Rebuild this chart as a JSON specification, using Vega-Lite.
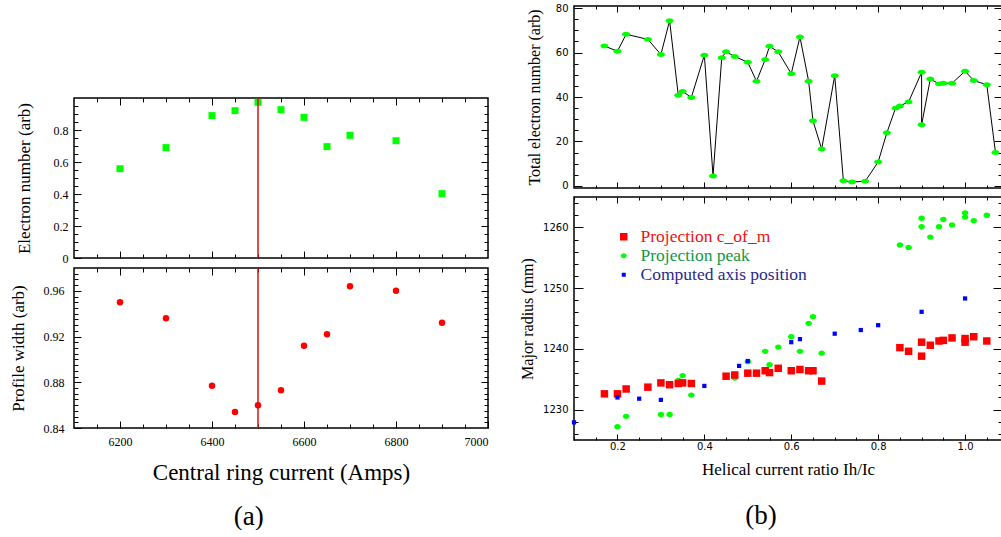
{
"$schema": "https://vega.github.io/schema/vega-lite/v6.json",
"background": "white",
"padding": {"left": 8, "top": 2, "right": 0, "bottom": 0},
"config": {
  "view": {"stroke": "#000", "strokeWidth": 1.5},
  "axis": {"domain": false, "grid": false, "tickColor": "#000", "tickWidth": 1, "labelColor": "#000", "titleColor": "#000", "titleFontWeight": "normal"},
  "title": {"fontWeight": "normal", "color": "#000"}
},
"datasets": {
  "a": [
    {"I":6200,"n":0.558,"w":0.950},
    {"I":6300,"n":0.690,"w":0.936},
    {"I":6400,"n":0.890,"w":0.877},
    {"I":6450,"n":0.921,"w":0.854},
    {"I":6500,"n":0.973,"w":0.860},
    {"I":6550,"n":0.927,"w":0.873},
    {"I":6600,"n":0.879,"w":0.912},
    {"I":6650,"n":0.696,"w":0.922},
    {"I":6700,"n":0.767,"w":0.964},
    {"I":6800,"n":0.733,"w":0.960},
    {"I":6900,"n":0.402,"w":0.932}
  ],
  "vline": [{"I": 6500}],
  "t": [
    {"o":1,"r":0.17,"N":62.9},{"o":2,"r":0.20,"N":60.6},{"o":3,"r":0.22,"N":68.2},{"o":4,"r":0.27,"N":65.9},
    {"o":5,"r":0.30,"N":59.1},{"o":6,"r":0.32,"N":74.3},{"o":7,"r":0.34,"N":40.8},{"o":8,"r":0.35,"N":42.5},
    {"o":9,"r":0.37,"N":39.8},{"o":10,"r":0.40,"N":58.8},{"o":11,"r":0.42,"N":4.5},{"o":12,"r":0.44,"N":57.6},
    {"o":13,"r":0.45,"N":60.3},{"o":14,"r":0.47,"N":58.2},{"o":15,"r":0.50,"N":55.6},{"o":16,"r":0.52,"N":47.1},
    {"o":17,"r":0.54,"N":56.8},{"o":18,"r":0.55,"N":62.8},{"o":19,"r":0.57,"N":60.3},{"o":20,"r":0.60,"N":50.5},
    {"o":21,"r":0.62,"N":67.0},{"o":22,"r":0.64,"N":47.1},{"o":23,"r":0.65,"N":29.3},{"o":24,"r":0.67,"N":16.6},
    {"o":25,"r":0.70,"N":49.6},{"o":26,"r":0.72,"N":2.4},{"o":27,"r":0.74,"N":1.8},{"o":28,"r":0.77,"N":2.1},
    {"o":29,"r":0.80,"N":10.8},{"o":30,"r":0.82,"N":23.9},{"o":31,"r":0.84,"N":35.0},{"o":32,"r":0.85,"N":36.0},
    {"o":33,"r":0.87,"N":37.8},{"o":34,"r":0.90,"N":51.1},{"o":35,"r":0.90,"N":27.5},{"o":36,"r":0.92,"N":48.1},
    {"o":37,"r":0.94,"N":45.9},{"o":38,"r":0.95,"N":46.2},{"o":39,"r":0.97,"N":46.2},{"o":40,"r":1.00,"N":51.6},
    {"o":41,"r":1.02,"N":47.4},{"o":42,"r":1.05,"N":45.5},{"o":43,"r":1.07,"N":15.1}
  ],
  "b": [
    {"r":0.85,"R":1257.1,"s":"Projection peak"},{"r":0.87,"R":1256.7,"s":"Projection peak"},
    {"r":0.90,"R":1261.5,"s":"Projection peak"},{"r":0.90,"R":1260.1,"s":"Projection peak"},
    {"r":0.92,"R":1258.4,"s":"Projection peak"},{"r":0.94,"R":1260.1,"s":"Projection peak"},
    {"r":0.95,"R":1261.3,"s":"Projection peak"},{"r":0.97,"R":1260.4,"s":"Projection peak"},
    {"r":1.00,"R":1262.4,"s":"Projection peak"},{"r":1.00,"R":1261.7,"s":"Projection peak"},
    {"r":1.02,"R":1261.1,"s":"Projection peak"},{"r":1.05,"R":1262.0,"s":"Projection peak"},
    {"r":0.64,"R":1244.2,"s":"Projection peak"},{"r":0.65,"R":1245.3,"s":"Projection peak"},
    {"r":0.60,"R":1242.0,"s":"Projection peak"},{"r":0.57,"R":1240.3,"s":"Projection peak"},
    {"r":0.54,"R":1239.6,"s":"Projection peak"},{"r":0.62,"R":1239.6,"s":"Projection peak"},
    {"r":0.67,"R":1239.3,"s":"Projection peak"},{"r":0.55,"R":1237.4,"s":"Projection peak"},
    {"r":0.50,"R":1237.9,"s":"Projection peak"},{"r":0.52,"R":1235.9,"s":"Projection peak"},
    {"r":0.47,"R":1235.2,"s":"Projection peak"},{"r":0.35,"R":1235.6,"s":"Projection peak"},
    {"r":0.34,"R":1234.8,"s":"Projection peak"},{"r":0.37,"R":1232.4,"s":"Projection peak"},
    {"r":0.22,"R":1228.9,"s":"Projection peak"},{"r":0.20,"R":1227.2,"s":"Projection peak"},
    {"r":0.30,"R":1229.2,"s":"Projection peak"},{"r":0.32,"R":1229.2,"s":"Projection peak"},
    {"r":0.17,"R":1232.6,"s":"Projection c_of_m"},{"r":0.20,"R":1232.6,"s":"Projection c_of_m"},
    {"r":0.22,"R":1233.4,"s":"Projection c_of_m"},{"r":0.27,"R":1233.7,"s":"Projection c_of_m"},
    {"r":0.30,"R":1234.4,"s":"Projection c_of_m"},{"r":0.32,"R":1234.1,"s":"Projection c_of_m"},
    {"r":0.34,"R":1234.3,"s":"Projection c_of_m"},{"r":0.35,"R":1234.4,"s":"Projection c_of_m"},
    {"r":0.37,"R":1234.3,"s":"Projection c_of_m"},{"r":0.45,"R":1235.5,"s":"Projection c_of_m"},
    {"r":0.47,"R":1235.7,"s":"Projection c_of_m"},{"r":0.50,"R":1236.0,"s":"Projection c_of_m"},
    {"r":0.52,"R":1236.0,"s":"Projection c_of_m"},{"r":0.54,"R":1236.4,"s":"Projection c_of_m"},
    {"r":0.55,"R":1236.1,"s":"Projection c_of_m"},{"r":0.57,"R":1236.8,"s":"Projection c_of_m"},
    {"r":0.60,"R":1236.4,"s":"Projection c_of_m"},{"r":0.62,"R":1236.6,"s":"Projection c_of_m"},
    {"r":0.64,"R":1236.4,"s":"Projection c_of_m"},{"r":0.65,"R":1236.4,"s":"Projection c_of_m"},
    {"r":0.67,"R":1234.7,"s":"Projection c_of_m"},{"r":0.85,"R":1240.2,"s":"Projection c_of_m"},
    {"r":0.87,"R":1239.6,"s":"Projection c_of_m"},{"r":0.90,"R":1241.1,"s":"Projection c_of_m"},
    {"r":0.90,"R":1238.8,"s":"Projection c_of_m"},{"r":0.92,"R":1240.6,"s":"Projection c_of_m"},
    {"r":0.94,"R":1241.3,"s":"Projection c_of_m"},{"r":0.95,"R":1241.4,"s":"Projection c_of_m"},
    {"r":0.97,"R":1241.8,"s":"Projection c_of_m"},{"r":1.00,"R":1241.7,"s":"Projection c_of_m"},
    {"r":1.00,"R":1241.1,"s":"Projection c_of_m"},{"r":1.02,"R":1242.0,"s":"Projection c_of_m"},
    {"r":1.05,"R":1241.3,"s":"Projection c_of_m"},
    {"r":0.10,"R":1227.9,"s":"Computed axis position"},{"r":0.20,"R":1232.0,"s":"Computed axis position"},
    {"r":0.25,"R":1231.8,"s":"Computed axis position"},{"r":0.30,"R":1231.6,"s":"Computed axis position"},
    {"r":0.40,"R":1233.9,"s":"Computed axis position"},{"r":0.48,"R":1237.2,"s":"Computed axis position"},
    {"r":0.50,"R":1238.0,"s":"Computed axis position"},{"r":0.60,"R":1241.1,"s":"Computed axis position"},
    {"r":0.62,"R":1241.6,"s":"Computed axis position"},{"r":0.70,"R":1242.5,"s":"Computed axis position"},
    {"r":0.76,"R":1243.1,"s":"Computed axis position"},{"r":0.80,"R":1243.9,"s":"Computed axis position"},
    {"r":0.90,"R":1246.1,"s":"Computed axis position"},{"r":1.00,"R":1248.3,"s":"Computed axis position"}
  ]
},
"spacing": 28,
"hconcat": [
  {
    "bounds": "flush",
    "spacing": 10,
    "title": {"text": "(a)", "orient": "bottom", "anchor": "middle", "font": "Liberation Serif", "fontSize": 27, "offset": 19},
    "vconcat": [
      {"width": 414, "height": 82, "data": {"values": []}, "mark": {"type": "point", "opacity": 0}, "encoding": {}, "view": {"stroke": null}},
      {
        "width": 414, "height": 160,
        "resolve": {"axis": {"x": "independent", "y": "independent"}},
        "layer": [
          {
            "data": {"name": "a"},
            "mark": {"type": "point", "shape": "square", "filled": true, "opacity": 1, "size": 49, "color": "#00ff00"},
            "encoding": {
              "x": {"field": "I", "type": "quantitative", "scale": {"domain": [6100, 7000], "nice": false, "zero": false},
                    "axis": {"orient": "bottom", "title": null, "labels": false, "values": [6200,6400,6600,6800], "offset": -7, "tickSize": 7}},
              "y": {"field": "n", "type": "quantitative", "scale": {"domain": [0, 1], "nice": false, "zero": false},
                    "axis": {"orient": "left", "title": "Electron number (arb)", "titleFont": "Liberation Serif", "titleFontSize": 17, "titlePadding": 20,
                             "labelFont": "Liberation Serif", "labelFontSize": 12, "labelPadding": 6, "format": "~g",
                             "values": [0,0.2,0.4,0.6,0.8], "offset": -7, "tickSize": 7}}
            }
          },
          {
            "data": {"name": "a"},
            "mark": {"type": "point", "opacity": 0},
            "encoding": {
              "x": {"field": "I", "type": "quantitative", "scale": {"domain": [6100, 7000], "nice": false, "zero": false},
                    "axis": {"orient": "bottom", "title": null, "labels": false, "values": [6150,6250,6300,6350,6450,6500,6550,6650,6700,6750,6850,6900,6950], "offset": -4, "tickSize": 4}},
              "y": {"field": "n", "type": "quantitative", "scale": {"domain": [0, 1], "nice": false, "zero": false},
                    "axis": {"orient": "left", "title": null, "labels": false,
                             "values": [0.05,0.1,0.15,0.25,0.3,0.35,0.45,0.5,0.55,0.65,0.7,0.75,0.85,0.9,0.95], "offset": -4, "tickSize": 4}}
            }
          },
          {
            "data": {"name": "a"},
            "mark": {"type": "point", "opacity": 0},
            "encoding": {
              "x": {"field": "I", "type": "quantitative", "scale": {"domain": [6100, 7000], "nice": false, "zero": false},
                    "axis": {"orient": "top", "title": null, "labels": false, "values": [6200,6400,6600,6800], "offset": -7, "tickSize": 7}},
              "y": {"field": "n", "type": "quantitative", "scale": {"domain": [0, 1], "nice": false, "zero": false},
                    "axis": {"orient": "right", "title": null, "labels": false, "values": [0.2,0.4,0.6,0.8], "offset": -7, "tickSize": 7}}
            }
          },
          {
            "data": {"name": "a"},
            "mark": {"type": "point", "opacity": 0},
            "encoding": {
              "x": {"field": "I", "type": "quantitative", "scale": {"domain": [6100, 7000], "nice": false, "zero": false},
                    "axis": {"orient": "top", "title": null, "labels": false, "values": [6150,6250,6300,6350,6450,6500,6550,6650,6700,6750,6850,6900,6950], "offset": -4, "tickSize": 4}},
              "y": {"field": "n", "type": "quantitative", "scale": {"domain": [0, 1], "nice": false, "zero": false},
                    "axis": {"orient": "right", "title": null, "labels": false,
                             "values": [0.05,0.1,0.15,0.25,0.3,0.35,0.45,0.5,0.55,0.65,0.7,0.75,0.85,0.9,0.95], "offset": -4, "tickSize": 4}}
            }
          },
          {
            "data": {"name": "vline"},
            "mark": {"type": "rule", "color": "#dd1111", "strokeWidth": 1.5},
            "encoding": {"x": {"field": "I", "type": "quantitative", "scale": {"domain": [6100, 7000], "nice": false, "zero": false}, "axis": null}}
          }
        ]
      },
      {
        "width": 414, "height": 160,
        "resolve": {"axis": {"x": "independent", "y": "independent"}},
        "layer": [
          {
            "data": {"name": "a"},
            "mark": {"type": "point", "shape": "circle", "filled": true, "opacity": 1, "size": 42, "color": "#ff0000"},
            "encoding": {
              "x": {"field": "I", "type": "quantitative", "scale": {"domain": [6100, 7000], "nice": false, "zero": false},
                    "axis": {"orient": "bottom", "title": "Central ring current (Amps)", "titleFont": "Liberation Serif", "titleFontSize": 23, "titlePadding": 14,
                             "labelFont": "Liberation Serif", "labelFontSize": 12, "labelPadding": 8, "format": "d",
                             "values": [6200,6400,6600,6800,7000], "offset": -7, "tickSize": 7}},
              "y": {"field": "w", "type": "quantitative", "scale": {"domain": [0.84, 0.98], "nice": false, "zero": false},
                    "axis": {"orient": "left", "title": "Profile width (arb)", "titleFont": "Liberation Serif", "titleFontSize": 17, "titlePadding": 16,
                             "labelFont": "Liberation Serif", "labelFontSize": 12, "labelPadding": 10, "format": ".2f",
                             "values": [0.84,0.88,0.92,0.96], "offset": -7, "tickSize": 7}}
            }
          },
          {
            "data": {"name": "a"},
            "mark": {"type": "point", "opacity": 0},
            "encoding": {
              "x": {"field": "I", "type": "quantitative", "scale": {"domain": [6100, 7000], "nice": false, "zero": false},
                    "axis": {"orient": "bottom", "title": null, "labels": false, "values": [6150,6250,6300,6350,6450,6500,6550,6650,6700,6750,6850,6900,6950], "offset": -4, "tickSize": 4}},
              "y": {"field": "w", "type": "quantitative", "scale": {"domain": [0.84, 0.98], "nice": false, "zero": false},
                    "axis": {"orient": "left", "title": null, "labels": false,
                             "values": [0.845,0.85,0.855,0.86,0.865,0.87,0.875,0.885,0.89,0.895,0.9,0.905,0.91,0.915,0.925,0.93,0.935,0.94,0.945,0.95,0.955,0.965,0.97,0.975], "offset": -4, "tickSize": 4}}
            }
          },
          {
            "data": {"name": "a"},
            "mark": {"type": "point", "opacity": 0},
            "encoding": {
              "x": {"field": "I", "type": "quantitative", "scale": {"domain": [6100, 7000], "nice": false, "zero": false},
                    "axis": {"orient": "top", "title": null, "labels": false, "values": [6200,6400,6600,6800], "offset": -7, "tickSize": 7}},
              "y": {"field": "w", "type": "quantitative", "scale": {"domain": [0.84, 0.98], "nice": false, "zero": false},
                    "axis": {"orient": "right", "title": null, "labels": false, "values": [0.88,0.92,0.96], "offset": -7, "tickSize": 7}}
            }
          },
          {
            "data": {"name": "a"},
            "mark": {"type": "point", "opacity": 0},
            "encoding": {
              "x": {"field": "I", "type": "quantitative", "scale": {"domain": [6100, 7000], "nice": false, "zero": false},
                    "axis": {"orient": "top", "title": null, "labels": false, "values": [6150,6250,6300,6350,6450,6500,6550,6650,6700,6750,6850,6900,6950], "offset": -4, "tickSize": 4}},
              "y": {"field": "w", "type": "quantitative", "scale": {"domain": [0.84, 0.98], "nice": false, "zero": false},
                    "axis": {"orient": "right", "title": null, "labels": false,
                             "values": [0.845,0.85,0.855,0.86,0.865,0.87,0.875,0.885,0.89,0.895,0.9,0.905,0.91,0.915,0.925,0.93,0.935,0.94,0.945,0.95,0.955,0.965,0.97,0.975], "offset": -4, "tickSize": 4}}
            }
          },
          {
            "data": {"name": "vline"},
            "mark": {"type": "rule", "color": "#dd1111", "strokeWidth": 1.5},
            "encoding": {"x": {"field": "I", "type": "quantitative", "scale": {"domain": [6100, 7000], "nice": false, "zero": false}, "axis": null}}
          }
        ]
      }
    ]
  },
  {
    "bounds": "flush",
    "spacing": 9,
    "title": {"text": "(b)", "orient": "bottom", "anchor": "middle", "font": "Liberation Serif", "fontSize": 27, "offset": 25},
    "vconcat": [
      {
        "width": 428, "height": 182,
        "resolve": {"axis": {"x": "independent", "y": "independent"}},
        "layer": [
          {
            "data": {"name": "t"},
            "mark": {"type": "line", "color": "#000", "strokeWidth": 1},
            "encoding": {
              "order": {"field": "o", "type": "quantitative"},
              "x": {"field": "r", "type": "quantitative", "scale": {"domain": [0.1, 1.085], "nice": false, "zero": false},
                    "axis": {"orient": "bottom", "title": null, "labels": false, "values": [0.2,0.4,0.6,0.8,1.0], "offset": -6, "tickSize": 6}},
              "y": {"field": "N", "type": "quantitative", "scale": {"domain": [-0.9, 80.9], "nice": false, "zero": false},
                    "axis": {"orient": "left", "title": "Total electron number (arb)", "titleFont": "Liberation Serif", "titleFontSize": 16, "titlePadding": 13,
                             "labelFont": "DejaVu Sans", "labelFontSize": 10, "labelPadding": 6, "format": "d",
                             "values": [0,20,40,60,80], "offset": -8, "tickSize": 8}}
            }
          },
          {
            "data": {"name": "t"},
            "mark": {"type": "point", "shape": "M-1,0A1,0.62 0 1,1 1,0A1,0.62 0 1,1 -1,0Z", "filled": true, "opacity": 1, "size": 64, "color": "#00ff00"},
            "encoding": {
              "x": {"field": "r", "type": "quantitative", "scale": {"domain": [0.1, 1.085], "nice": false, "zero": false}, "axis": null},
              "y": {"field": "N", "type": "quantitative", "scale": {"domain": [-0.9, 80.9], "nice": false, "zero": false}, "axis": null}
            }
          },
          {
            "data": {"name": "t"},
            "mark": {"type": "point", "opacity": 0},
            "encoding": {
              "x": {"field": "r", "type": "quantitative", "scale": {"domain": [0.1, 1.085], "nice": false, "zero": false},
                    "axis": {"orient": "bottom", "title": null, "labels": false, "values": [0.15,0.25,0.3,0.35,0.45,0.5,0.55,0.65,0.7,0.75,0.85,0.9,0.95,1.05], "offset": -3, "tickSize": 3}},
              "y": {"field": "N", "type": "quantitative", "scale": {"domain": [-0.9, 80.9], "nice": false, "zero": false},
                    "axis": {"orient": "left", "title": null, "labels": false, "values": [5,10,15,25,30,35,45,50,55,65,70,75], "offset": -4, "tickSize": 4}}
            }
          },
          {
            "data": {"name": "t"},
            "mark": {"type": "point", "opacity": 0},
            "encoding": {
              "x": {"field": "r", "type": "quantitative", "scale": {"domain": [0.1, 1.085], "nice": false, "zero": false},
                    "axis": {"orient": "top", "title": null, "labels": false, "values": [0.2,0.4,0.6,0.8,1.0], "offset": -6, "tickSize": 6}},
              "y": {"field": "N", "type": "quantitative", "scale": {"domain": [-0.9, 80.9], "nice": false, "zero": false},
                    "axis": {"orient": "right", "title": null, "labels": false, "values": [0,20,40,60,80], "offset": -8, "tickSize": 8}}
            }
          },
          {
            "data": {"name": "t"},
            "mark": {"type": "point", "opacity": 0},
            "encoding": {
              "x": {"field": "r", "type": "quantitative", "scale": {"domain": [0.1, 1.085], "nice": false, "zero": false},
                    "axis": {"orient": "top", "title": null, "labels": false, "values": [0.15,0.25,0.3,0.35,0.45,0.5,0.55,0.65,0.7,0.75,0.85,0.9,0.95,1.05], "offset": -3, "tickSize": 3}},
              "y": {"field": "N", "type": "quantitative", "scale": {"domain": [-0.9, 80.9], "nice": false, "zero": false},
                    "axis": {"orient": "right", "title": null, "labels": false, "values": [5,10,15,25,30,35,45,50,55,65,70,75], "offset": -4, "tickSize": 4}}
            }
          }
        ]
      },
      {
        "width": 428, "height": 243,
        "resolve": {"axis": {"x": "independent", "y": "independent"}},
        "layer": [
          {
            "data": {"name": "b"},
            "transform": [{"filter": "datum.s === 'Projection peak'"}],
            "mark": {"type": "point", "filled": true, "opacity": 1, "size": 42},
            "encoding": {
              "x": {"field": "r", "type": "quantitative", "scale": {"domain": [0.1, 1.085], "nice": false, "zero": false},
                    "axis": {"orient": "bottom", "title": "Helical current ratio Ih/Ic", "titleFont": "Liberation Serif", "titleFontSize": 17, "titlePadding": 10,
                             "labelFont": "DejaVu Sans", "labelFontSize": 10, "labelPadding": 1, "format": ".1f",
                             "values": [0.2,0.4,0.6,0.8,1.0], "offset": -6, "tickSize": 6}},
              "y": {"field": "R", "type": "quantitative", "scale": {"domain": [1225, 1265], "nice": false, "zero": false},
                    "axis": {"orient": "left", "title": "Major radius (mm)", "titleFont": "Liberation Serif", "titleFontSize": 16, "titlePadding": 7,
                             "labelFont": "DejaVu Sans", "labelFontSize": 10, "labelPadding": 6, "format": "d",
                             "values": [1230,1240,1250,1260], "offset": -9, "tickSize": 9}},
              "color": {"field": "s", "type": "nominal",
                        "scale": {"domain": ["Projection c_of_m", "Projection peak", "Computed axis position"], "range": ["#ff0000", "#00ff00", "#0000ff"]},
                        "legend": {"orient": "none", "legendX": 541, "legendY": 222, "title": null, "labelFont": "Liberation Serif", "labelFontSize": 17.5,
                                   "labelOffset": 8, "rowPadding": 0, "symbolStrokeWidth": 0, "labelLimit": 400,
                                   "symbolSize": {"expr": "datum.label === 'Computed axis position' ? 16 : datum.label === 'Projection peak' ? 36 : 56"},
                                   "labelColor": {"expr": "datum.label === 'Projection c_of_m' ? '#ee1111' : datum.label === 'Projection peak' ? '#119944' : '#2a2a8a'"}}},
              "shape": {"field": "s", "type": "nominal",
                        "scale": {"domain": ["Projection c_of_m", "Projection peak", "Computed axis position"], "range": ["square", "M-1,0A1,0.82 0 1,1 1,0A1,0.82 0 1,1 -1,0Z", "square"]}}
            }
          },
          {
            "data": {"name": "b"},
            "transform": [{"filter": "datum.s === 'Projection c_of_m'"}],
            "mark": {"type": "point", "filled": true, "opacity": 1, "size": 56},
            "encoding": {
              "x": {"field": "r", "type": "quantitative", "scale": {"domain": [0.1, 1.085], "nice": false, "zero": false}, "axis": null},
              "y": {"field": "R", "type": "quantitative", "scale": {"domain": [1225, 1265], "nice": false, "zero": false}, "axis": null},
              "color": {"field": "s", "type": "nominal", "scale": {"domain": ["Projection c_of_m", "Projection peak", "Computed axis position"], "range": ["#ff0000", "#00ff00", "#0000ff"]}},
              "shape": {"field": "s", "type": "nominal", "scale": {"domain": ["Projection c_of_m", "Projection peak", "Computed axis position"], "range": ["square", "M-1,0A1,0.82 0 1,1 1,0A1,0.82 0 1,1 -1,0Z", "square"]}}
            }
          },
          {
            "data": {"name": "b"},
            "transform": [{"filter": "datum.s === 'Computed axis position'"}],
            "mark": {"type": "point", "filled": true, "opacity": 1, "size": 18},
            "encoding": {
              "x": {"field": "r", "type": "quantitative", "scale": {"domain": [0.1, 1.085], "nice": false, "zero": false}, "axis": null},
              "y": {"field": "R", "type": "quantitative", "scale": {"domain": [1225, 1265], "nice": false, "zero": false}, "axis": null},
              "color": {"field": "s", "type": "nominal", "scale": {"domain": ["Projection c_of_m", "Projection peak", "Computed axis position"], "range": ["#ff0000", "#00ff00", "#0000ff"]}},
              "shape": {"field": "s", "type": "nominal", "scale": {"domain": ["Projection c_of_m", "Projection peak", "Computed axis position"], "range": ["square", "M-1,0A1,0.82 0 1,1 1,0A1,0.82 0 1,1 -1,0Z", "square"]}}
            }
          },
          {
            "data": {"name": "b"},
            "mark": {"type": "point", "opacity": 0},
            "encoding": {
              "x": {"field": "r", "type": "quantitative", "scale": {"domain": [0.1, 1.085], "nice": false, "zero": false},
                    "axis": {"orient": "bottom", "title": null, "labels": false, "values": [0.1,0.15,0.25,0.3,0.35,0.45,0.5,0.55,0.65,0.7,0.75,0.85,0.9,0.95,1.05], "offset": -3, "tickSize": 3}},
              "y": {"field": "R", "type": "quantitative", "scale": {"domain": [1225, 1265], "nice": false, "zero": false},
                    "axis": {"orient": "left", "title": null, "labels": false, "values": [1226,1228,1232,1234,1236,1238,1242,1244,1246,1248,1252,1254,1256,1258,1262,1264], "offset": -4, "tickSize": 4}}
            }
          },
          {
            "data": {"name": "b"},
            "mark": {"type": "point", "opacity": 0},
            "encoding": {
              "x": {"field": "r", "type": "quantitative", "scale": {"domain": [0.1, 1.085], "nice": false, "zero": false},
                    "axis": {"orient": "top", "title": null, "labels": false, "values": [0.2,0.4,0.6,0.8,1.0], "offset": -6, "tickSize": 6}},
              "y": {"field": "R", "type": "quantitative", "scale": {"domain": [1225, 1265], "nice": false, "zero": false},
                    "axis": {"orient": "right", "title": null, "labels": false, "values": [1230,1240,1250,1260], "offset": -9, "tickSize": 9}}
            }
          },
          {
            "data": {"name": "b"},
            "mark": {"type": "point", "opacity": 0},
            "encoding": {
              "x": {"field": "r", "type": "quantitative", "scale": {"domain": [0.1, 1.085], "nice": false, "zero": false},
                    "axis": {"orient": "top", "title": null, "labels": false, "values": [0.1,0.15,0.25,0.3,0.35,0.45,0.5,0.55,0.65,0.7,0.75,0.85,0.9,0.95,1.05], "offset": -3, "tickSize": 3}},
              "y": {"field": "R", "type": "quantitative", "scale": {"domain": [1225, 1265], "nice": false, "zero": false},
                    "axis": {"orient": "right", "title": null, "labels": false, "values": [1226,1228,1232,1234,1236,1238,1242,1244,1246,1248,1252,1254,1256,1258,1262,1264], "offset": -4, "tickSize": 4}}
            }
          }
        ]
      }
    ]
  }
]
}
